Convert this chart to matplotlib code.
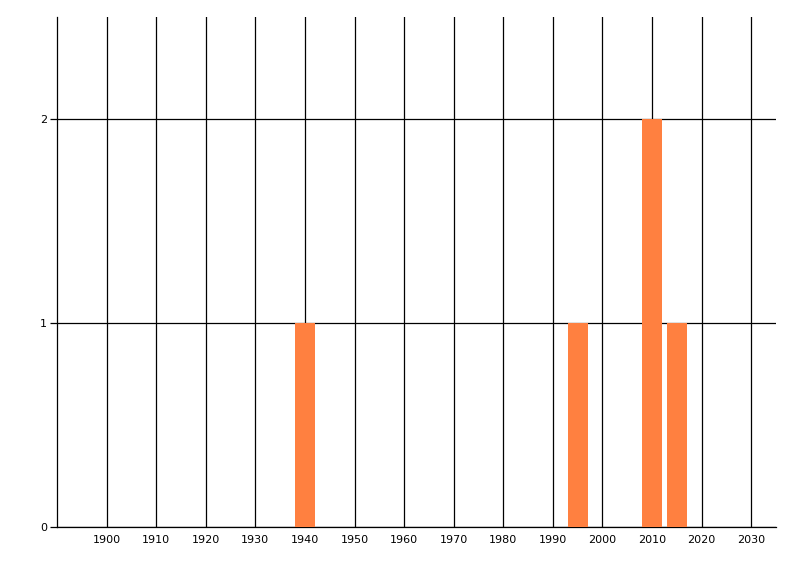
import matplotlib.pyplot as plt

years = [1940, 1995, 2010, 2015]
counts = [1, 1, 2, 1]
x_ticks = list(range(1900, 2031, 10))
y_ticks = [0, 1, 2]

fig = plt.figure(figsize=(8, 5.76), dpi=100)
ax = fig.add_axes([57 / 800, 49 / 576, 719 / 800, 510 / 576])

ax.bar(years, counts, width=4, color='#ff8040', zorder=3)

ax.set_xlim(1890, 2035)
ax.set_ylim(0, 2.5)
ax.set_xticks(x_ticks)
ax.set_xticklabels([str(t) for t in x_ticks])
ax.set_yticks(y_ticks)

ax.grid(True, color='black', linewidth=0.9, zorder=0)
ax.set_axisbelow(True)

for s in ['top', 'right']:
    ax.spines[s].set_visible(False)
for s in ['left', 'bottom']:
    ax.spines[s].set_linewidth(0.9)

ax.tick_params(axis='x', length=0, pad=6, labelsize=8)
ax.tick_params(axis='y', length=5, width=0.9, pad=2, labelsize=8)

fig.savefig('out.png', dpi=100)
